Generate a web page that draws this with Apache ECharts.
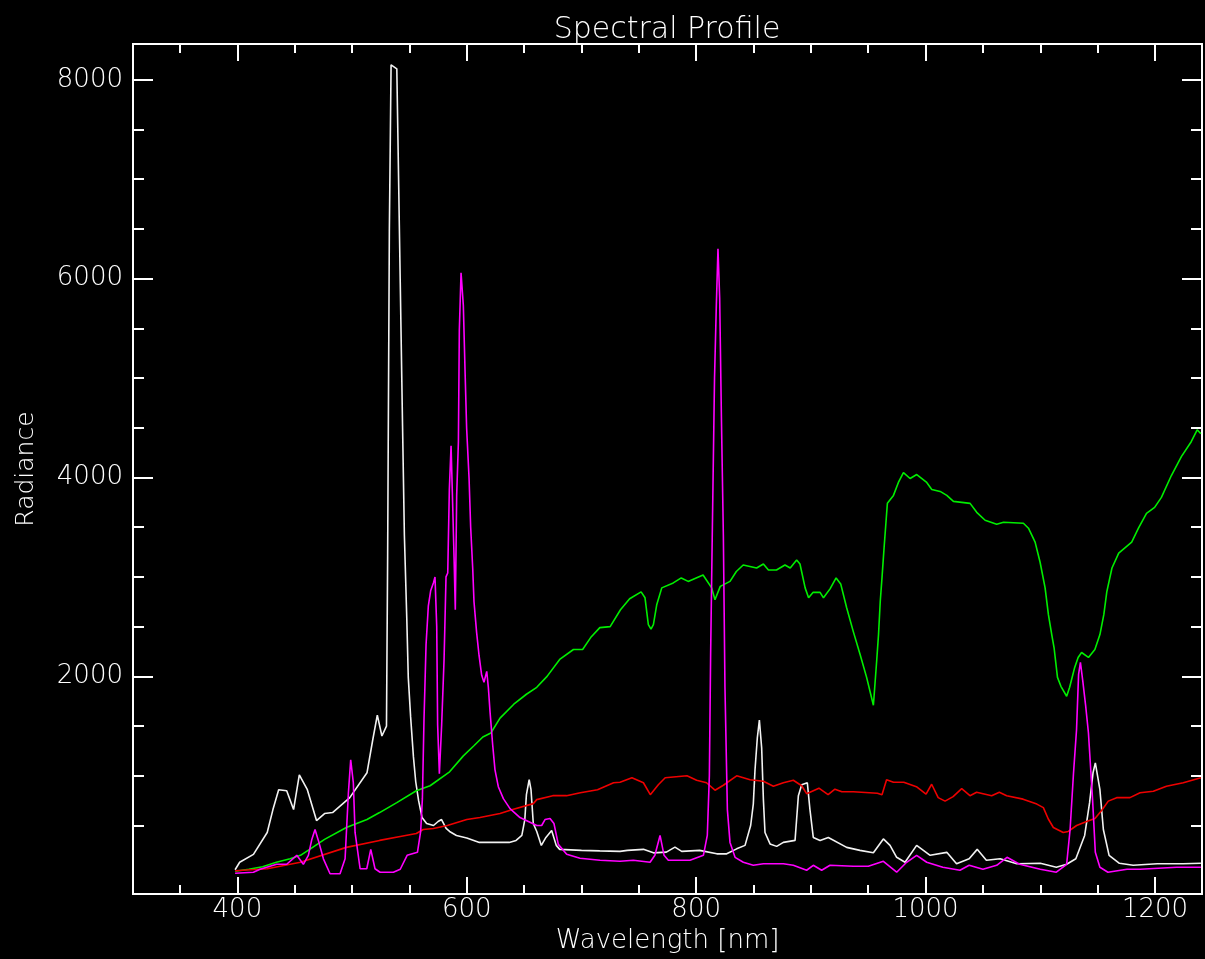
<!DOCTYPE html>
<html>
<head>
<meta charset="utf-8">
<title>Spectral Profile</title>
<script src="https://cdn.jsdelivr.net/npm/echarts@6/dist/echarts.min.js"></script>
<style>
  html, body { margin: 0; padding: 0; background: #000; }
  #chart { width: 1205px; height: 959px; }
</style>
</head>
<body>
<div id="chart"></div>
<script>
// Axis ranges and tick positions
const xRange = [309, 1241];
const yRange = [-190, 8360];
const xMajorTicks = [400, 600, 800, 1000, 1200];
const xMinorTicks = [350, 450, 500, 550, 650, 700, 750, 850, 900, 950, 1050, 1100, 1150, 1200];
const yMajorTicks = [2000, 4000, 6000, 8000];
const yMinorTicks = [500, 1000, 1500, 2500, 3000, 3500, 4500, 5000, 5500, 6500, 7000, 7500];

// White spectrum
const whiteWl = [398, 402, 414, 426, 431, 436, 443, 449, 454, 461, 469, 476, 483, 498, 513, 518, 522, 526, 530, 531, 532.5, 534, 539, 540, 542, 544, 545.6, 547.7, 549, 551, 553.5, 555.5, 558, 561, 565, 571, 575, 578, 582, 585, 591, 600, 611, 637, 643, 648, 650.6, 652, 654.4, 656, 658, 661, 665, 669, 674, 678, 681, 700, 716, 733.6, 740, 754, 762.7, 774, 781.5, 787.4, 803, 818, 826.6, 835.3, 842.6, 847.5, 849.8, 851.3, 853.3, 855.1, 857.1, 858.6, 860, 864.4, 870.2, 876, 886.2, 889.1, 892, 896.9, 899.2, 902.1, 908, 915.2, 931.2, 942.8, 954.5, 963.2, 969, 974.8, 982.1, 992.2, 1004, 1018.5, 1027, 1038, 1045, 1053, 1065, 1079.5, 1100, 1114, 1123, 1131, 1138.7, 1143, 1146, 1148, 1152, 1155, 1160, 1169, 1181, 1202, 1224.5, 1240];
const whiteRad = [55, 130, 210, 430, 660, 860, 850, 660, 1010, 860, 550, 620, 630, 780, 1030, 1360, 1610, 1400, 1500, 3200, 6480, 8150, 8110, 7400, 5960, 4520, 3420, 2580, 1990, 1600, 1190, 940, 750, 580, 520, 500, 540, 560, 470, 440, 400, 375, 330, 330, 350, 400, 560, 810, 960, 860, 520, 440, 300, 380, 450, 300, 260, 250, 245, 240, 250, 260, 225, 232, 282, 240, 250, 215, 215, 265, 300, 500, 715, 1060, 1380, 1560, 1280, 760, 430, 315, 290, 330, 350, 800, 910, 930, 660, 380, 350, 380, 280, 250, 225, 365, 300, 180, 130, 300, 200, 230, 115, 165, 260, 150, 165, 115, 120, 80, 110, 165, 400, 730, 1030, 1130, 860, 460, 200, 120, 100, 115, 115, 120];

// Green spectrum
const greenWl = [398, 410, 422, 434, 446, 455, 463, 476, 495, 513, 524, 539, 556, 568, 585, 597, 606, 614, 621, 629, 641, 652, 661, 670, 681, 693, 701, 708, 716, 725, 734, 742, 752, 755.4, 758.3, 760.6, 762.7, 765.6, 770, 780, 787, 793, 806, 813.5, 816.4, 821, 829.5, 835, 841, 852.7, 858.6, 863, 870, 877.4, 882, 887.6, 890.5, 895, 898, 902, 908, 911, 916.7, 922, 926, 931.2, 937, 942.8, 948.6, 954.5, 957.4, 959, 960.5, 962, 963.8, 965.6, 966.7, 972, 976.3, 980.7, 986.5, 992.3, 1001, 1005.4, 1012.7, 1018.5, 1024.3, 1038.8, 1044.6, 1051.9, 1062, 1068, 1085.3, 1089.7, 1095.5, 1099.8, 1104.2, 1107.1, 1110, 1112, 1115, 1118, 1123, 1125.6, 1130, 1133, 1136, 1142, 1147.6, 1152, 1155.4, 1158, 1162.5, 1168.4, 1179.7, 1185.6, 1192.6, 1199.7, 1205.6, 1214.3, 1223, 1231.6, 1236.8, 1240];
const greenRad = [40, 60, 85, 130, 165, 200, 260, 360, 480, 560, 630, 730, 850, 900, 1040, 1200, 1300, 1390, 1430, 1580, 1720, 1820, 1890, 2000, 2170, 2270, 2270, 2390, 2490, 2500, 2670, 2780, 2850, 2790, 2520, 2475, 2520, 2720, 2890, 2940, 2990, 2955, 3020, 2890, 2770, 2905, 2955, 3055, 3120, 3090, 3130, 3070, 3070, 3120, 3090, 3170, 3130, 2890, 2790, 2845, 2845, 2790, 2880, 2990, 2930, 2690, 2450, 2225, 1990, 1710, 2160, 2425, 2755, 2990, 3290, 3570, 3740, 3820, 3950, 4050, 3990, 4030, 3950, 3880, 3860, 3820, 3760, 3740, 3650, 3570, 3530, 3550, 3540, 3490, 3350, 3150, 2890, 2620, 2420, 2290, 1990, 1900, 1800, 1890, 2090, 2190, 2240, 2190, 2270, 2420, 2620, 2850, 3090, 3240, 3350, 3490, 3640, 3700, 3800, 4020, 4210, 4360, 4480, 4440];

// Red spectrum
const redWl = [398, 426, 455, 495, 524, 542, 556, 562, 571, 583, 600, 611.5, 629, 640, 658, 661, 675, 687, 699, 714, 728, 733.6, 744, 754, 760, 767, 773, 792, 800.4, 809, 816.4, 823.7, 835.3, 847, 858.6, 867.3, 876, 884.7, 892, 896.3, 907, 915, 921, 927, 937, 958, 962, 966, 972, 981, 992, 1000.4, 1005.3, 1011, 1017, 1024, 1031.5, 1038.7, 1044.5, 1057.6, 1064.3, 1070.7, 1085, 1097, 1102.7, 1107, 1111.4, 1120, 1124.4, 1131.7, 1140.4, 1147.7, 1153.5, 1159.3, 1166.6, 1178.2, 1187, 1198.6, 1210, 1224.7, 1240];
const redRad = [45, 65, 130, 280, 350, 390, 420, 460, 470, 500, 560, 580, 620, 660, 720, 760, 800, 800, 830, 860, 930, 935, 980, 930, 810, 910, 980, 1000, 955, 930, 855, 905, 1000, 960, 945, 895, 930, 955, 900, 820, 875, 810, 865, 840, 840, 825, 810, 960, 935, 935, 890, 815, 915, 780, 745, 790, 870, 800, 835, 800, 835, 800, 765, 715, 680, 565, 480, 430, 440, 500, 540, 570, 650, 745, 780, 780, 830, 845, 895, 930, 980];

// Magenta spectrum
const magentaWl = [398, 414, 419.8, 434.3, 443, 451.8, 457.5, 461.9, 464.9, 467.7, 470.6, 475, 480.8, 489.5, 493.9, 496.8, 498.8, 501.1, 502.6, 507, 512.8, 516.3, 520, 524.4, 536, 542, 548, 557, 559.8, 561.3, 562.7, 564.5, 566.5, 568.5, 570.9, 572.3, 573.8, 574.6, 576.1, 578.1, 580.2, 581.9, 583.4, 584.8, 586.3, 587.4, 588.9, 590, 591.2, 592.7, 593.5, 595, 597, 598.5, 599.9, 602, 603.4, 605.2, 606.3, 608.6, 610.7, 613, 615, 617.4, 618.8, 620.3, 622.6, 624.6, 627.5, 631.9, 637.7, 646.4, 653.7, 661, 665.3, 668.2, 672.6, 676, 679.8, 687.1, 698.7, 716.2, 733.6, 745.2, 759.8, 764, 768.5, 772, 775.7, 794.6, 806.3, 809.7, 811.5, 812.6, 814, 816, 817.5, 819, 820.5, 822, 823.7, 825.1, 827.2, 829.5, 833.9, 841.1, 849.8, 858.6, 876, 884.7, 896.3, 902.1, 909.4, 916.7, 937, 950.1, 963.2, 974.8, 983.5, 992.2, 1001, 1015, 1030, 1038, 1050, 1062, 1071, 1082, 1100, 1114, 1123, 1126, 1129, 1131.6, 1133.4, 1135, 1137, 1139.6, 1142, 1145.6, 1148, 1152, 1159, 1175.6, 1187, 1219, 1240];
const magentaRad = [20, 30, 60, 110, 110, 200, 110, 200, 360, 460, 350, 165, 15, 15, 165, 830, 1160, 930, 430, 65, 65, 260, 65, 30, 30, 60, 200, 230, 440, 770, 1560, 2320, 2710, 2860, 2940, 3000, 2500, 1510, 1020, 1510, 2170, 3000, 3040, 3880, 4320, 3860, 3200, 2670, 3820, 4360, 5480, 6060, 5730, 5070, 4490, 3990, 3500, 3080, 2750, 2440, 2210, 2010, 1940, 2050, 1890, 1640, 1310, 1060, 890, 770, 670, 580, 540, 500, 500, 560, 570, 520, 310, 210, 170, 150, 140, 150, 130, 200, 400, 200, 150, 150, 200, 400, 1000, 2220, 3400, 5000, 5700, 6300, 5800, 4600, 3420, 1890, 660, 330, 180, 130, 100, 115, 115, 100, 50, 100, 50, 100, 90, 90, 140, 30, 130, 200, 130, 80, 50, 100, 60, 100, 180, 110, 60, 30, 110, 460, 1030, 1460, 2020, 2140, 1960, 1700, 1430, 760, 230, 80, 30, 60, 60, 80, 80];

function pairs(wl, rad) {
  return wl.map((w, i) => [w, rad[i]]);
}

const FONT = '"DejaVu Sans", sans-serif';
const FG = '#ffffff';
const plainNumber = (v) => String(v);

function xAxisDef(position, ticks, len, showLabels) {
  return {
    type: 'value', position: position, min: xRange[0], max: xRange[1],
    axisLine: { show: true, onZero: false, lineStyle: { color: FG, width: 2 } },
    axisTick: { show: true, inside: true, length: len, customValues: ticks, lineStyle: { color: FG, width: 2 } },
    axisLabel: showLabels ? { show: true, customValues: ticks, formatter: plainNumber, color: FG, fontFamily: FONT, fontSize: 26, fontWeight: 200, margin: 3 } : { show: false },
    splitLine: { show: false }
  };
}
function yAxisDef(position, ticks, len, showLabels) {
  return {
    type: 'value', position: position, min: yRange[0], max: yRange[1],
    axisLine: { show: true, onZero: false, lineStyle: { color: FG, width: 2 } },
    axisTick: { show: true, inside: true, length: len, customValues: ticks, lineStyle: { color: FG, width: 2 } },
    axisLabel: showLabels ? { show: true, customValues: ticks, formatter: plainNumber, color: FG, fontFamily: FONT, fontSize: 26, fontWeight: 200, margin: 10 } : { show: false },
    splitLine: { show: false }
  };
}

const xAxes = [
  xAxisDef('bottom', xMajorTicks, 17, true),
  xAxisDef('bottom', xMinorTicks, 9, false),
  xAxisDef('top', xMajorTicks, 17, false),
  xAxisDef('top', xMinorTicks, 9, false)
];
Object.assign(xAxes[0], {
  name: 'Wavelength [nm]', nameLocation: 'middle', nameGap: 25,
  nameTextStyle: { color: FG, fontFamily: FONT, fontSize: 26, fontWeight: 200 }
});

const yAxes = [
  yAxisDef('left', yMajorTicks, 20, true),
  yAxisDef('left', yMinorTicks, 11, false),
  yAxisDef('right', yMajorTicks, 20, false),
  yAxisDef('right', yMinorTicks, 11, false)
];
Object.assign(yAxes[0], {
  name: 'Radiance', nameLocation: 'middle', nameGap: 94,
  nameTextStyle: { color: FG, fontFamily: FONT, fontSize: 25, fontWeight: 200 }
});

function lineSeries(name, data, color) {
  return {
    name: name, type: 'line', xAxisIndex: 0, yAxisIndex: 0,
    data: data, showSymbol: false, symbol: 'none', smooth: false,
    lineStyle: { color: color, width: 1.6 },
    emphasis: { disabled: true }
  };
}

const chart = echarts.init(document.getElementById('chart'), null, { renderer: 'canvas' });
chart.setOption({
  backgroundColor: '#000000',
  animation: false,
  title: {
    text: 'Spectral Profile', left: 662, textAlign: 'center', top: 10,
    textStyle: { color: FG, fontFamily: FONT, fontSize: 30, fontWeight: 200 }
  },
  grid: { left: 133, right: 3, top: 44, bottom: 56, containLabel: false },
  xAxis: xAxes,
  yAxis: yAxes,
  series: [
    lineSeries('white', pairs(whiteWl, whiteRad), '#f2f2f2'),
    lineSeries('green', pairs(greenWl, greenRad), '#00ee00'),
    lineSeries('red', pairs(redWl, redRad), '#ee0000'),
    lineSeries('magenta', pairs(magentaWl, magentaRad), '#ff00ff')
  ]
});
</script>
</body>
</html>
